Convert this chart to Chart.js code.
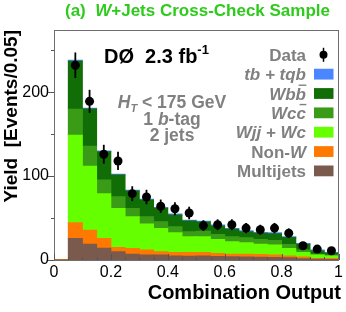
<!DOCTYPE html>
<html><head><meta charset="utf-8">
<script src="https://cdn.jsdelivr.net/npm/chart.js@4.4.1/dist/chart.umd.min.js"></script>
<style>html,body{margin:0;padding:0;background:#fff;}#wrap{width:346px;height:312px;}</style>
</head><body><div id="wrap"><canvas id="c" width="346" height="312"></canvas></div>
<script>
// ---- data ----
const binCenters = [0.025,0.075,0.125,0.175,0.225,0.275,0.325,0.375,0.425,0.475,0.525,0.575,0.625,0.675,0.725,0.775,0.825,0.875,0.925,0.975];
const multijets = [0,25.8,19,14,9.9,7.1,6,6,4.8,4.5,4.8,4.4,4,3.6,3.5,3,2.8,1.5,1,0.8];
const nonW      = [0.6,18.6,16.7,11.8,5.2,6.8,5.9,3.9,4.2,4.5,4.3,3.5,3.1,3.4,3.2,3,2,2.1,1,1];
const wjjWc     = [0,104.4,76.2,53.2,46.4,37.7,31,27.8,23.5,18.8,18.7,16.7,14.7,13.6,12.3,11.9,9.1,5.5,4,3];
const wcc       = [0,31,23.8,16.5,13.9,9.9,8.7,7.9,7.2,5.9,6.7,6,6,6,5.6,5.5,4.8,2.8,1.1,1.2];
const wbb       = [0,57.2,44.3,33.5,26,20.8,20,16.1,14.1,12.9,10.9,10.1,8.9,7.3,7.3,8.1,8.1,6.9,3.8,2.1];
const tbTqb     = [0,1,1,1,1,1,1,1,1,1,1,1,1,1,1,1,1,1,1,1];
const dataYield = [null,232,189,126,118,79,75,64,61,56,41,42,42,38,36,38,32,17,13,11];
const xTickValues = [0,0.2,0.4,0.6,0.8,1];
const yTickValues = [0,100,200];

const COL = {tb:'#4a86ff', wbb:'#116e06', wcc:'#3a9c16', wjj:'#66ff00', nonw:'#ff7800', mj:'#7a5a4c'};
const FAM = '"Liberation Sans", Arial, Helvetica, sans-serif';
const GREY = '#808080';

function fontFor(s,size){const sz=(s.sub||s.sup)?Math.round(size*0.65):size;return (s.st||'bold')+' '+sz+'px '+FAM;}
function measure(ctx,segs,size){let w=0;for(const s of segs){ctx.font=fontFor(s,size);w+=ctx.measureText(s.t).width;}return w;}
function drawSegs(ctx,segs,x,y,size,align,color){
  const w=measure(ctx,segs,size);
  let cx=align==='right'?x-w:align==='center'?x-w/2:x;
  ctx.fillStyle=color;ctx.textBaseline='alphabetic';ctx.textAlign='left';
  for(const s of segs){
    ctx.font=fontFor(s,size);
    const dy=s.sub?size*0.25:s.sup?-size*0.42:0;
    ctx.fillText(s.t,cx,y+dy);
    const sw=ctx.measureText(s.t).width;
    if(s.over){ctx.strokeStyle=color;ctx.lineWidth=1.4;const oy=y-size*0.84;ctx.beginPath();ctx.moveTo(cx+size*0.18,oy);ctx.lineTo(cx+sw+size*0.02,oy);ctx.stroke();}
    cx+=sw;
  }
}

const bar=(label,arr,color)=>({type:'bar',label,data:binCenters.map((x,i)=>({x,y:arr[i]})),backgroundColor:color,borderWidth:0,
  barPercentage:1,categoryPercentage:1,inflateAmount:0.4,stack:'mc',yAxisID:'y',order:2});

const decor={
  id:'decor',
  beforeDraw(chart){const c=chart.ctx;c.save();c.fillStyle='#fff';c.fillRect(0,0,chart.width,chart.height);c.restore();},
  afterDatasetsDraw(chart){
    const c=chart.ctx,xs=chart.scales.x,ys=chart.scales.yd;
    c.save();c.strokeStyle='#000';c.lineWidth=1.8;
    dataYield.forEach((v,i)=>{if(v==null)return;const e=Math.sqrt(v);const px=xs.getPixelForValue(binCenters[i]);
      c.beginPath();c.moveTo(px,ys.getPixelForValue(v-e));c.lineTo(px,ys.getPixelForValue(v+e));c.stroke();});
    c.restore();
  },
  afterDraw(chart){
    const c=chart.ctx,a=chart.chartArea,xs=chart.scales.x,ys=chart.scales.y;
    c.save();
    // frame
    c.strokeStyle='#6e6e6e';c.lineWidth=1;
    c.strokeRect(Math.round(a.left)+0.5,Math.round(a.top)+0.5,Math.round(a.right-a.left)-1,Math.round(a.bottom-a.top));
    // y ticks (outside)
    c.strokeStyle='#555';
    for(let v=0;v<=250;v+=50){const py=Math.round(ys.getPixelForValue(v))+0.5;const L=(v%100===0)?6:3;
      c.beginPath();c.moveTo(a.left-L,py);c.lineTo(a.left,py);c.stroke();}
    // x ticks (inside)
    for(let k=0;k<=20;k++){const v=k*0.05;const px=Math.round(xs.getPixelForValue(v))+0.5;const L=(k%4===0)?6:3;
      c.beginPath();c.moveTo(px,a.bottom);c.lineTo(px,a.bottom-L);c.stroke();}
    // title
    drawSegs(c,[{t:'(a)  '},{t:'W',st:'italic bold'},{t:'+Jets Cross-Check Sample'}],197.5,16,17,'center','#2ecb1c');
    // DØ
    drawSegs(c,[{t:'DØ  2.3 fb'},{t:'-1',sup:true}],104,62.5,20,'left','#000');
    // annotations
    drawSegs(c,[{t:'H',st:'italic bold'},{t:'T',st:'italic bold',sub:true},{t:' < 175 GeV'}],172,107.5,17.5,'center',GREY);
    drawSegs(c,[{t:'1 '},{t:'b',st:'italic bold'},{t:'-tag'}],172,124.5,17.5,'center',GREY);
    drawSegs(c,[{t:'2 jets'}],172,141,17.5,'center',GREY);
    // legend
    const rows=[
      {s:[{t:'Data'}],data:true},
      {s:[{t:'tb + tqb',st:'italic bold'}],col:COL.tb},
      {s:[{t:'Wb',st:'italic bold'},{t:'b',st:'italic bold',over:true}],col:COL.wbb},
      {s:[{t:'Wc',st:'italic bold'},{t:'c',st:'italic bold',over:true}],col:COL.wcc},
      {s:[{t:'Wjj + Wc',st:'italic bold'}],col:COL.wjj},
      {s:[{t:'Non-'},{t:'W',st:'italic bold'}],col:COL.nonw},
      {s:[{t:'Multijets'}],col:COL.mj}];
    rows.forEach((r,i)=>{const cy=54.8+i*19.35;
      drawSegs(c,r.s,306,cy+6,17,'right',GREY);
      if(r.data){c.fillStyle='#000';c.beginPath();c.arc(323.5,cy,4,0,Math.PI*2);c.fill();
        c.strokeStyle='#000';c.lineWidth=1.5;c.beginPath();c.moveTo(323.5,cy-7);c.lineTo(323.5,cy+7);c.stroke();}
      else{c.fillStyle=r.col;c.fillRect(314,cy-5.4,19.5,10.8);}
    });
    // axis titles
    c.fillStyle='#000';c.font='bold 20px '+FAM;c.textAlign='right';c.textBaseline='middle';
    c.fillText('Combination Output',341,293);
    c.font='bold 19px '+FAM;
    c.save();c.translate(12,30);c.rotate(-Math.PI/2);c.textAlign='right';c.fillText('Yield  [Events/0.05]',0,0);c.restore();
    c.restore();
  }
};

new Chart(document.getElementById('c'),{
  type:'bar',
  data:{datasets:[
    bar('Multijets',multijets,COL.mj),
    bar('Non-W',nonW,COL.nonw),
    bar('Wjj+Wc',wjjWc,COL.wjj),
    bar('Wcc',wcc,COL.wcc),
    bar('Wbb',wbb,COL.wbb),
    bar('tb+tqb',tbTqb,COL.tb),
    {type:'scatter',label:'Data',data:binCenters.map((x,i)=>({x,y:dataYield[i]})).filter(p=>p.y!=null),
     yAxisID:'yd',pointRadius:4.5,pointHoverRadius:4.5,backgroundColor:'#000',borderColor:'#000',borderWidth:0,order:0}
  ]},
  options:{
    responsive:false,animation:false,devicePixelRatio:1,
    layout:{padding:{left:0,right:4,top:30,bottom:0}},
    plugins:{legend:{display:false},tooltip:{enabled:false},title:{display:false}},
    scales:{
      x:{type:'linear',min:0,max:1,offset:false,stacked:true,
        grid:{display:false,drawTicks:false},border:{display:false},
        afterBuildTicks:s=>{s.ticks=xTickValues.map(v=>({value:v}));},
        ticks:{padding:3,color:'#000',font:{family:FAM,size:16},maxRotation:0,autoSkip:false,callback:v=>String(+(+v).toFixed(1))},
        afterFit:s=>{s.height=52;}},
      y:{type:'linear',min:0,max:274,stacked:true,
        grid:{display:false,drawTicks:false},border:{display:false},
        afterBuildTicks:s=>{s.ticks=yTickValues.map(v=>({value:v}));},
        ticks:{padding:5,color:'#000',font:{family:FAM,size:16},callback:v=>String(v)},
        afterFit:s=>{s.width=54;}},
      yd:{type:'linear',min:0,max:274,display:false}
    }
  },
  plugins:[decor]
});
</script></body></html>
